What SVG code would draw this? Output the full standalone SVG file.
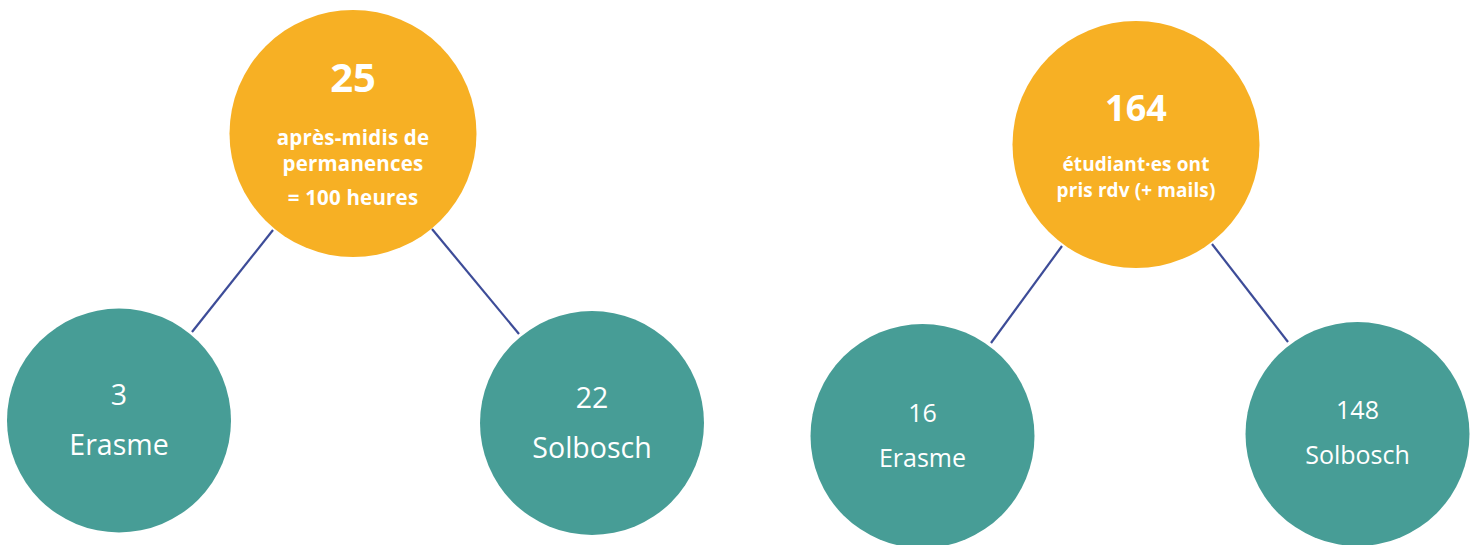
<svg xmlns="http://www.w3.org/2000/svg" width="1479" height="545" viewBox="0 0 1479 545">
<style>
.top{fill:#F7B024}
.sub{fill:#479D96}
.link{stroke:#3D4C98;stroke-width:2.2;fill:none}
text{font-family:"Open Sans","DejaVu Sans",sans-serif;fill:#FFFFFF;text-anchor:middle}
.big{font-weight:700;font-size:40px}
.lbl{font-weight:700;font-size:20.5px;letter-spacing:0.2px}
.lbl2{font-weight:700;font-size:19px;letter-spacing:0.1px}
.n1{font-size:28.5px}
.n2{font-size:25px}
</style>
<rect width="1479" height="545" fill="#FFFFFF"/>
<g id="connectors">
<line class="link" x1="273" y1="230" x2="192" y2="332"/>
<line class="link" x1="432" y1="229" x2="519" y2="334"/>
<line class="link" x1="1062" y1="246" x2="991" y2="343"/>
<line class="link" x1="1212" y1="244" x2="1288" y2="342"/>
</g>
<g id="node-25">
<circle class="top" cx="353" cy="133.5" r="123.5"/>
<text class="big" x="353" y="92">25</text>
<text class="lbl" x="353" y="145">après-midis de</text>
<text class="lbl" x="353" y="171">permanences</text>
<text class="lbl" x="353" y="205">= 100 heures</text>
</g>
<g id="node-3-erasme">
<circle class="sub" cx="119" cy="420.5" r="112"/>
<text class="n1" x="119" y="405">3</text>
<text class="n1" x="119" y="455">Erasme</text>
</g>
<g id="node-22-solbosch">
<circle class="sub" cx="592" cy="423" r="112"/>
<text class="n1" x="592" y="408">22</text>
<text class="n1" x="592" y="458">Solbosch</text>
</g>
<g id="node-164">
<circle class="top" cx="1136" cy="144.5" r="123.5"/>
<text class="big" x="1136" y="121" style="font-size:36px">164</text>
<text class="lbl2" x="1136" y="170.5">étudiant·es ont</text>
<text class="lbl2" x="1136" y="197">pris rdv (+ mails)</text>
</g>
<g id="node-16-erasme">
<circle class="sub" cx="922.5" cy="436" r="112"/>
<text class="n2" x="922.5" y="422">16</text>
<text class="n2" x="922.5" y="467">Erasme</text>
</g>
<g id="node-148-solbosch">
<circle class="sub" cx="1357.5" cy="434" r="112"/>
<text class="n2" x="1357.5" y="419">148</text>
<text class="n2" x="1357.5" y="464">Solbosch</text>
</g>
</svg>
